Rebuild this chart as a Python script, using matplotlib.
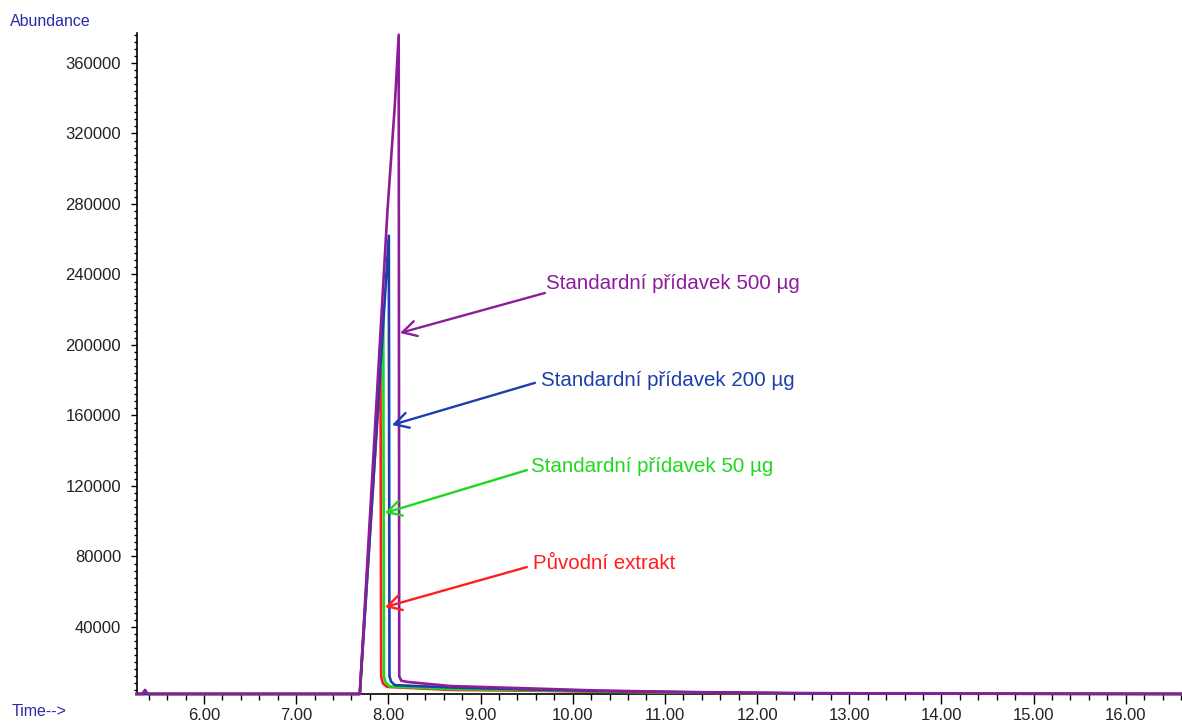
import matplotlib
matplotlib.use("Agg")
import matplotlib.pyplot as plt
from matplotlib.ticker import MultipleLocator, FormatStrFormatter

plt.rcParams["font.family"] = ["Liberation Sans", "DejaVu Sans"]

# chromatogram traces: retention time (min) vs abundance
red_t = [5.27, 7.69, 7.915, 7.922, 7.94, 7.985, 8.67, 9.75, 10.3, 11.4, 12.5, 16.61]
red_a = [2000, 2000, 186000, 12000, 8000, 6000, 4300, 3700, 3200, 2600, 2200, 2000]
green_t = [5.27, 7.69, 7.945, 7.952, 7.97, 8.017, 8.67, 9.75, 10.3, 11.4, 12.5, 16.61]
green_a = [2000, 2000, 222000, 12000, 8500, 6200, 4800, 4000, 3400, 2700, 2300, 2000]
blue_t = [5.27, 7.69, 8.005, 8.012, 8.03, 8.07, 8.67, 9.75, 10.3, 11.4, 12.5, 16.61]
blue_a = [2000, 2000, 262000, 12000, 9000, 7000, 5700, 4300, 3700, 2800, 2300, 2000]
purple_t = [5.27, 5.33, 5.36, 5.39, 7.69, 7.99, 8.07, 8.112, 8.118, 8.14, 8.21,
            8.67, 9.75, 10.3, 11.4, 12.5, 14.0, 16.61]
purple_a = [2000, 2000, 4300, 2000, 2000, 276000, 336000, 376000, 12000, 9500, 8800,
            6500, 4800, 3900, 3000, 2500, 2200, 2000]

labels = ["Standardní přídavek 500 µg", "Standardní přídavek 200 µg",
          "Standardní přídavek 50 µg", "Původní extrakt"]
# arrow head (time, abundance) and text anchor (time, abundance)
heads = [(8.126, 206800), (8.039, 154600), (7.963, 104700), (7.963, 51300)]
tails = [(9.698, 229500), (9.59, 178500), (9.503, 129000), (9.503, 74000)]
text_pos = [(9.709, 234600), (9.655, 180000), (9.547, 131000), (9.568, 76000)]

RED = "#ff1e1e"; GREEN = "#1ed81e"; BLUE = "#1e3eae"; PURPLE = "#8c1c9a"
AXIS_TXT = "#2a2aa8"
label_cols = [PURPLE, BLUE, GREEN, RED]

fig = plt.figure(figsize=(11.82, 7.23), dpi=100)
ax = fig.add_axes([137 / 1182, (723 - 694.3) / 723, 1 - 137 / 1182, (694.3 - 33) / 723])

for t, a, c in [(red_t, red_a, RED), (green_t, green_a, GREEN),
                (blue_t, blue_a, BLUE), (purple_t, purple_a, PURPLE)]:
    ax.plot(t, a, color=c, lw=1.9, solid_joinstyle="round", clip_on=False, zorder=3)

for lab, h, tl, tp, c in zip(labels, heads, tails, text_pos, label_cols):
    ax.annotate("", xy=h, xytext=tl,
                arrowprops=dict(arrowstyle="->,head_length=1.0,head_width=0.55",
                                color=c, lw=1.7, shrinkA=0, shrinkB=0, mutation_scale=10))
    ax.text(tp[0], tp[1], lab, color=c, fontsize=14.8, ha="left", va="center")

ax.set_xlim(5.273, 16.61)
ax.set_ylim(1800, 377000)
ax.xaxis.set_major_locator(MultipleLocator(1))
ax.xaxis.set_minor_locator(MultipleLocator(0.2))
ax.xaxis.set_major_formatter(FormatStrFormatter("%.2f"))
ax.yaxis.set_major_locator(MultipleLocator(40000))
ax.yaxis.set_minor_locator(MultipleLocator(4000))
ax.yaxis.set_major_formatter(FormatStrFormatter("%d"))
ax.tick_params(axis="x", which="major", direction="out", length=7, width=1, pad=3,
               labelsize=12, labelcolor="#222222")
ax.tick_params(axis="x", which="minor", direction="out", length=4, width=1)
ax.tick_params(axis="y", which="major", direction="out", length=4.5, width=1, pad=7,
               labelsize=12, labelcolor="#222222")
ax.tick_params(axis="y", which="minor", direction="out", length=2.3, width=1)
for s in ("top", "right"):
    ax.spines[s].set_visible(False)
for s in ("left", "bottom"):
    ax.spines[s].set_linewidth(1.2)

fig.text(10 / 1182, 1 - 22 / 723, "Abundance", color=AXIS_TXT, fontsize=11.5,
         ha="left", va="center")
fig.text(12 / 1182, 1 - 711 / 723, "Time-->", color=AXIS_TXT, fontsize=11.5,
         ha="left", va="center")

fig.savefig("out.png", dpi=100, facecolor="white")
